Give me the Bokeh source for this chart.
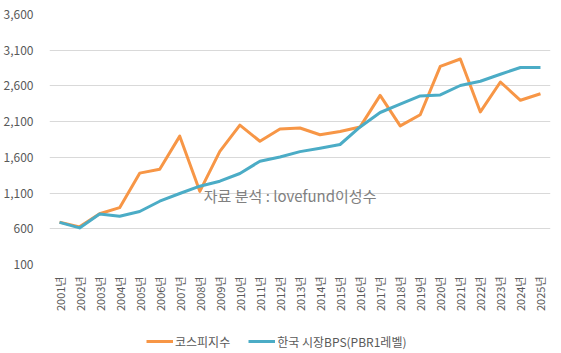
import math
from bokeh.plotting import figure
from bokeh.layouts import column
from bokeh.models import FactorRange, Range1d, Legend, LegendItem, FixedTicker, NumeralTickFormatter
from bokeh.core.properties import value
from bokeh.embed import file_html
from bokeh.resources import INLINE

years = [f"{y}년" for y in range(2001, 2026)]
kospi = [693, 627, 810, 896, 1379, 1434, 1897, 1124, 1683, 2051, 1826, 1997, 2011,
         1916, 1961, 2026, 2467, 2041, 2197, 2873, 2977, 2236, 2655, 2399, 2490]
bps = [690, 612, 808, 776, 842, 986, 1094, 1196, 1266, 1374, 1546, 1606, 1680,
       1728, 1780, 2026, 2228, 2344, 2460, 2474, 2606, 2666, 2764, 2858, 2858]
y_ticks = [100, 600, 1100, 1600, 2100, 2600, 3100, 3600]
series_names = ["코스피지수", "한국 시장BPS(PBR1레벨)"]
note = "자료 분석 : lovefund이성수"

FONT = "Noto Sans CJK KR"
ORANGE = "#F79646"
BLUE = "#4BACC6"

p = figure(width=561, height=327, output_backend="svg", toolbar_location=None,
           x_range=FactorRange(factors=years, range_padding=0),
           y_range=Range1d(100, 3600),
           min_border_left=48, min_border_right=11, min_border_top=14, min_border_bottom=63)
p.outline_line_color = None
p.background_fill_color = "white"
p.border_fill_color = "white"

r1 = p.line(years, kospi, line_color=ORANGE, line_width=3, line_join="round")
r2 = p.line(years, bps, line_color=BLUE, line_width=3, line_join="round")

p.text(x=["2008년"], y=[1070], text=[note], x_offset=4, text_align="left",
       text_baseline="middle", text_font=value(FONT), text_font_size="15px",
       text_color="#808080")

p.xgrid.grid_line_color = None
p.ygrid.grid_line_color = "#D9D9D9"
p.ygrid.grid_line_width = 1
p.yaxis.ticker = FixedTicker(ticks=y_ticks)
p.yaxis.formatter = NumeralTickFormatter(format="0,0")
for ax in (p.xaxis[0], p.yaxis[0]):
    ax.axis_line_color = None
    ax.major_tick_line_color = None
    ax.minor_tick_line_color = None
    ax.major_label_text_color = "#595959"
    ax.major_label_text_font = FONT
    ax.major_label_text_font_size = "12px"
p.xaxis.major_label_text_font_size = "11px"
p.xaxis.major_label_orientation = math.pi / 2
p.xaxis.major_label_standoff = 6
p.yaxis.major_label_standoff = 10

# legend strip below the chart
lg = figure(width=561, height=26, output_backend="svg", toolbar_location=None,
            x_range=FactorRange(factors=years, range_padding=0),
            y_range=Range1d(-2, -1), min_border=0)
lg.axis.visible = False
lg.grid.visible = False
lg.outline_line_color = None
l1 = lg.line(years, kospi, line_color=ORANGE, line_width=3)
l2 = lg.line(years, bps, line_color=BLUE, line_width=3)
legend = Legend(items=[LegendItem(label=series_names[0], renderers=[l1]),
                       LegendItem(label=series_names[1], renderers=[l2])],
                orientation="horizontal", location=(97, 2),
                label_text_font=FONT, label_text_font_size="12px",
                label_text_color="#595959", glyph_width=27, label_standoff=2,
                spacing=18, border_line_color=None, background_fill_alpha=0,
                margin=0, padding=3)
lg.add_layout(legend, "center")

layout = column(p, lg, spacing=0)
open("out.html", "w").write(file_html(layout, INLINE))
